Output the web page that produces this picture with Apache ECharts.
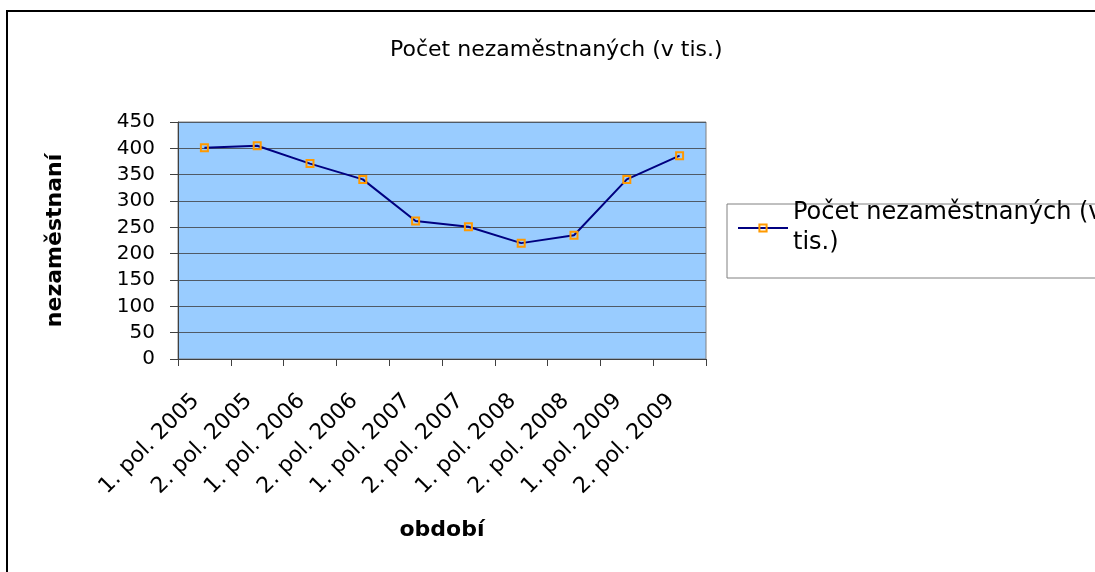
<!DOCTYPE html>
<html>
<head>
<meta charset="utf-8">
<script src="https://cdn.jsdelivr.net/npm/echarts@6/dist/echarts.min.js"></script>
<style>
  html, body { margin: 0; padding: 0; background: #fff; }
  #chart { width: 1095px; height: 572px; }
</style>
</head>
<body>
<div id="chart"></div>
<script>
// data
const periods = [
  '1. pol. 2005', '2. pol. 2005', '1. pol. 2006', '2. pol. 2006', '1. pol. 2007',
  '2. pol. 2007', '1. pol. 2008', '2. pol. 2008', '1. pol. 2009', '2. pol. 2009'
];
const unemployed = [401, 405, 371, 341, 262, 251, 220, 235, 341, 386];
const seriesName = 'Počet nezaměstnaných (v tis.)';

const font = '"DejaVu Sans", sans-serif';
const chart = echarts.init(document.getElementById('chart'));

chart.setOption({
  animation: false,
  backgroundColor: '#fff',
  textStyle: { fontFamily: font, color: '#000' },
  title: {
    text: 'Počet nezaměstnaných (v tis.)',
    left: 385,
    top: 34,
    textStyle: { fontFamily: font, fontSize: 22, fontWeight: 'normal', color: '#000' }
  },
  legend: {
    left: 737,
    top: 183,
    padding: 0,
    itemWidth: 50,
    itemHeight: 9,
    formatter: () => 'Počet nezaměstnaných (v\ntis.)',
    textStyle: {
      fontFamily: font, fontSize: 24, color: '#000',
      lineHeight: 30, padding: [30, 0, 0, 0]
    },
    data: [seriesName]
  },
  graphic: [
    {
      type: 'rect', silent: true, z: -1,
      shape: { x: 727, y: 204, width: 400, height: 74 },
      style: { fill: 'none', stroke: '#808080', lineWidth: 1 }
    },
    {
      type: 'rect', silent: true,
      shape: { x: 7, y: 11, width: 1200, height: 600 },
      style: { fill: 'none', stroke: '#000', lineWidth: 2 }
    }
  ],
  grid: {
    left: 178, top: 122, width: 528, height: 237,
    show: true, backgroundColor: '#99ccff', borderColor: '#808080', borderWidth: 1
  },
  xAxis: {
    type: 'category',
    data: periods,
    boundaryGap: true,
    name: 'období',
    nameLocation: 'middle',
    nameGap: 160,
    nameTextStyle: { fontFamily: font, fontSize: 22, fontWeight: 'bold', color: '#000' },
    axisLine: { lineStyle: { color: '#404040', width: 1 } },
    axisTick: { show: true, length: 7, alignWithLabel: false, lineStyle: { color: '#404040' } },
    axisLabel: {
      rotate: 45, margin: 30, padding: [0, 12, 0, 0],
      fontFamily: font, fontSize: 22, color: '#000', interval: 0
    }
  },
  yAxis: {
    type: 'value',
    min: 0, max: 450, interval: 50,
    name: 'nezaměstnaní',
    nameLocation: 'middle',
    nameGap: 112,
    nameTextStyle: { fontFamily: font, fontSize: 22, fontWeight: 'bold', color: '#000' },
    axisLine: { show: true, lineStyle: { color: '#404040', width: 1 } },
    axisTick: { show: true, length: 8, lineStyle: { color: '#404040' } },
    axisLabel: { margin: 23, fontFamily: font, fontSize: 20, color: '#000' },
    splitLine: { lineStyle: { color: '#4f5a66', width: 1 } }
  },
  series: [{
    name: seriesName,
    type: 'line',
    data: unemployed,
    symbol: 'rect',
    symbolSize: 7,
    showAllSymbol: true,
    lineStyle: { color: '#000080', width: 2 },
    itemStyle: { color: 'rgba(0,0,0,0)', borderColor: '#ff9900', borderWidth: 2 }
  }]
});
</script>
</body>
</html>
